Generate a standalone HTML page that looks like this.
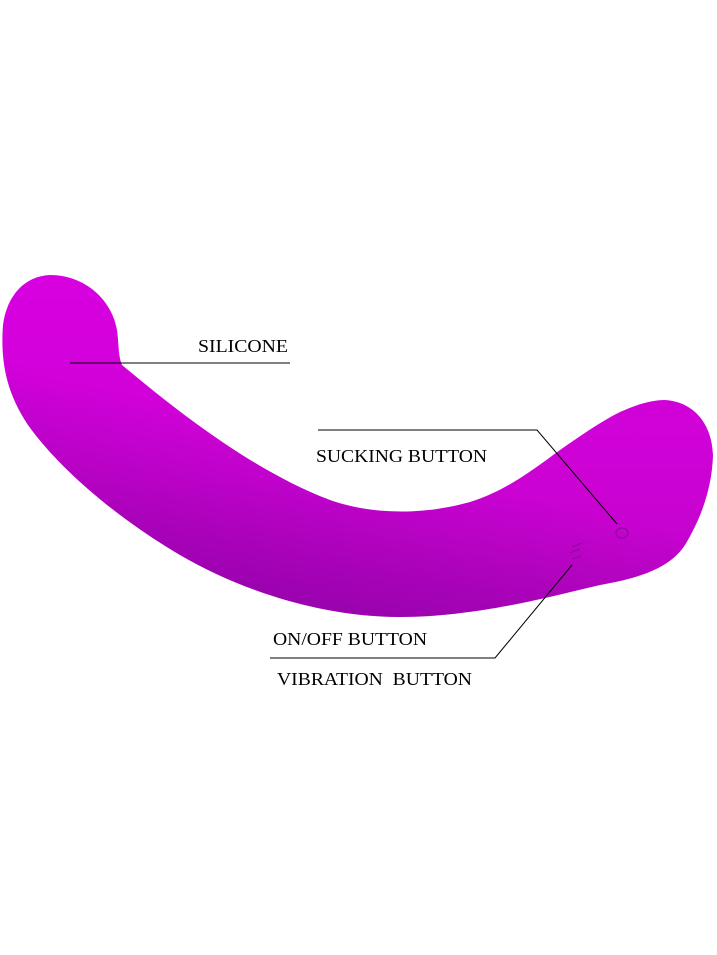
<!DOCTYPE html>
<html><head><meta charset="utf-8"><style>
html,body{margin:0;padding:0;background:#fff;width:717px;height:955px;overflow:hidden}
</style></head><body>
<svg width="717" height="955" viewBox="0 0 717 955" xmlns="http://www.w3.org/2000/svg">
<defs>
<linearGradient id="g" x1="0" y1="0" x2="0" y2="1">
<stop offset="0" stop-color="#d800e0"/>
<stop offset="0.6" stop-color="#cc02d4"/>
<stop offset="1" stop-color="#bc04c6"/>
</linearGradient>
<linearGradient id="s" x1="0.55" y1="0.25" x2="0.2" y2="0.9">
<stop offset="0.35" stop-color="#5a0080" stop-opacity="0"/>
<stop offset="1" stop-color="#5a0080" stop-opacity="0.4"/>
</linearGradient>
</defs>
<path d="M50,275 C85,275 112,300 117,330 C119,345 118,355 122,365 C170,405 250,470 330,500 C370,514 420,516 470,502 C505,491 530,472 560,450 C580,436 600,422 620,412 C638,404 652,400 665,400 C695,402 712,425 713,455 C712,490 700,520 685,545 C670,568 640,578 600,585 C560,594 480,617 400,617 C320,617 240,590 180,555 C120,520 60,470 28,425 C8,395 0,365 3,325 C7,295 25,276 50,275 Z" fill="url(#g)"/>
<path d="M50,275 C85,275 112,300 117,330 C119,345 118,355 122,365 C170,405 250,470 330,500 C370,514 420,516 470,502 C505,491 530,472 560,450 C580,436 600,422 620,412 C638,404 652,400 665,400 C695,402 712,425 713,455 C712,490 700,520 685,545 C670,568 640,578 600,585 C560,594 480,617 400,617 C320,617 240,590 180,555 C120,520 60,470 28,425 C8,395 0,365 3,325 C7,295 25,276 50,275 Z" fill="url(#s)"/>
<ellipse cx="622" cy="533" rx="6" ry="5" fill="none" stroke="#8a0a9a" stroke-width="1.2"/>
<path d="M572,547 l10,-4 M570,553 l10,-4 M573,559 l8,-3" stroke="#8a0a9a" stroke-width="1.2"/>
<g stroke="#000" stroke-width="1" fill="none">
<polyline points="70,363 290,363"/>
<polyline points="318,430 537,430 617,524"/>
<polyline points="270,658 495,658 572,565"/>
</g>
<g font-family="Liberation Serif, serif" font-size="18" fill="#000">
<text x="198" y="352" textLength="90" lengthAdjust="spacingAndGlyphs">SILICONE</text>
<text x="316" y="462" textLength="171" lengthAdjust="spacingAndGlyphs">SUCKING BUTTON</text>
<text x="273" y="645" textLength="154" lengthAdjust="spacingAndGlyphs">ON/OFF BUTTON</text>
<text x="277" y="685" textLength="195" lengthAdjust="spacingAndGlyphs" xml:space="preserve">VIBRATION  BUTTON</text>
</g>
</svg>
</body></html>
